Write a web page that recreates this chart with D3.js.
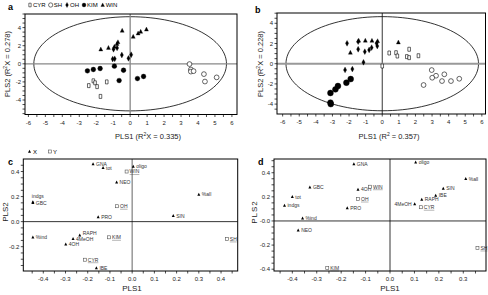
<!DOCTYPE html>
<html><head><meta charset="utf-8">
<script src="https://cdn.jsdelivr.net/npm/d3@7"></script>
<style>
html,body{margin:0;padding:0;background:#fff;}
svg{display:block;font-family:"Liberation Sans",Arial,sans-serif;}
</style></head>
<body><svg id="c" width="488" height="295"></svg>
<script>
// ---------- Panel a (scores) ----------
const aCYR = [[-2.44,-2.41],[-2.17,-1.88],[-2.07,-2.1],[-1.95,-2.52],[-1.38,-2.0],[-1.75,-3.6]];
const aSH  = [[3.5,-0.03],[3.58,-0.63],[3.58,-0.86],[3.74,-0.81],[4.35,-1.14],[4.41,-1.96],[5.1,-1.5]];
const aOH  = [[-0.98,1.6],[-0.77,1.75],[-0.49,0.97],[-1.03,0.52],[-0.91,0.55],[-0.1,0.6],[0.06,1.0]];
const aKIM = [[-2.52,-0.78],[-2.17,-0.63],[-1.77,-0.52],[-0.93,-0.26],[-0.39,-0.71],[-0.65,-1.85],[0.43,-1.63],[0.79,-1.4]];
const aWIN = [[-1.73,1.6],[-1.28,1.78],[-0.93,1.9],[-0.78,2.2],[-0.72,2.4],[-0.47,3.67],[0.18,3.0],[0.47,3.37],[0.62,3.55],[0.96,3.8]];
// ---------- Panel b (scores) ----------
const bCYR = [[0,-0.23],[0.42,1.06],[0.83,1.09],[0.91,0.76],[1.48,0.7],[1.62,0.6],[1.62,1.43],[2.18,0.79]];
const bSH  = [[2.98,-0.63],[3.24,-1.19],[3.01,-1.39],[3.74,-1.05],[3.6,-1.72],[4.14,-1.72],[4.64,-1.49],[2.49,-2.11]];
const bOH  = [[-2.12,2.02],[-1.45,2.18],[-1.45,1.43],[-1.05,1.19],[-0.79,1.36],[-0.64,1.59],[-0.34,2.02],[-0.3,1.75],[-1.13,0.14],[-2.24,-0.62],[-1.8,-0.53]];
const bKIM = [[-3.12,-2.9],[-3.12,-3.85],[-3.1,-4.0],[-2.82,-2.54],[-2.67,-2.21],[-2.16,-1.88],[-1.9,-1.52]];
const bWIN = [[-1.92,1.1],[-1.42,2.3],[-1.02,2.3],[-0.62,2.28],[-0.28,2.25],[0.97,2.12]];
const groupNames = ["CYR","SH","OH","KIM","WIN"];
// ellipse semi-axes (Hotelling T2)
const aEllipse = [5.68, 5.2];
const bEllipse = [5.8, 4.66];
// ---------- Panel c (loadings) ----------
const cNames = ["GNA","tot","oligo","WIN","NEO","indgs","GBC","%all","OH","PRO","SIN","%ind","RAPH","4MeOH","4OH","KIM","SH","CYR","IBE"];
const cKind  = ["X","X","X","Y","X","X","X","X","Y","X","X","X","X","X","X","Y","Y","Y","X"];
const cX     = [-0.176,-0.131,0.005,-0.025,-0.07,-0.447,-0.447,0.30,-0.068,-0.153,0.185,-0.447,-0.236,-0.266,-0.299,-0.104,0.426,-0.213,-0.161];
const cY     = [0.46,0.43,0.44,0.40,0.315,0.157,0.15,0.216,0.123,0.037,0.046,-0.125,-0.109,-0.136,-0.181,-0.125,-0.138,-0.304,-0.37];
// ---------- Panel d (loadings) ----------
const dNames = ["GNA","oligo","%all","GBC","tot","indgs","4OH","WIN","OH","PRO","%ind","NEO","SIN","IBE","RAPH","4MeOH","CYR","SH","KIM"];
const dKind  = ["X","X","X","X","X","X","X","Y","Y","X","X","X","X","X","X","X","Y","Y","Y"];
const dX     = [-0.148,0.105,0.31,-0.328,-0.40,-0.432,-0.131,-0.082,-0.131,-0.175,-0.358,-0.376,0.218,0.187,0.13,0.101,0.126,0.358,-0.257];
const dY     = [0.473,0.487,0.35,0.28,0.2,0.127,0.26,0.284,0.182,0.108,0.022,-0.077,0.268,0.21,0.177,0.141,0.114,-0.224,-0.39];
// tick label sets
const scoreXTicks = [-6,-5,-4,-3,-2,-1,0,1,2,3,4,5,6];
const scoreYTicks = [-4,-2,0,2,4];
const cXTicks = [-0.4,-0.3,-0.2,-0.1,0.0,0.1,0.2,0.3,0.4];
const cYTicks = [-0.2,0.0,0.2,0.4];
const dXTicks = [-0.4,-0.3,-0.2,-0.1,0.0,0.1,0.2,0.3];
const dYTicks = [-0.4,-0.2,0.0,0.2,0.4];

const svg = d3.select("#c");
const FS = 6;

function shapePath(kind){
  switch(kind){
    case "CYR": return "M-1.3,-2L1.3,-2L1.3,2L-1.3,2Z";
    case "SH": return d3.symbol(d3.symbolCircle, 18)();
    case "OH": return "M0,-2.9L1.6,0L0,2.9L-1.6,0Z";
    case "KIM": return d3.symbol(d3.symbolCircle, 15)();
    case "WIN": return "M0,-2.3L2,1.7L-2,1.7Z";
  }
}
function styleShape(sel, kind){
  const open = (kind==="CYR"||kind==="SH");
  sel.attr("fill", open ? "#fff" : "#000").attr("stroke", "#000").attr("stroke-width", open?0.6:0.3);
}

function frameAxes(g, x, y, opt){
  const [x0,x1] = x.range(), [y0,y1] = y.range();
  g.selectAll(null).data(opt.xMinor).join("line")
    .attr("x1", d=>x(d)).attr("x2", d=>x(d)).attr("y1", y0).attr("y2", y0+2.5)
    .attr("stroke","#000").attr("stroke-width",0.7);
  g.selectAll(null).data(opt.yMinor).join("line")
    .attr("y1", d=>y(d)).attr("y2", d=>y(d)).attr("x1", x0).attr("x2", x0-2.5)
    .attr("stroke","#000").attr("stroke-width",0.7);
  g.selectAll(null).data(opt.xLabels).join("text")
    .attr("x", d=>x(d)).attr("y", y0+10).attr("text-anchor","middle")
    .attr("font-size",FS).attr("fill","#222").text(opt.xFmt);
  g.selectAll(null).data(opt.yLabels).join("text")
    .attr("x", x0-4).attr("y", d=>y(d)+2).attr("text-anchor","end")
    .attr("font-size",FS).attr("fill","#222").text(opt.yFmt);
}
function frameBox(g, x, y){
  const [x0,x1] = x.range(), [y0,y1] = y.range();
  g.append("rect").attr("x",x0).attr("y",y1).attr("width",x1-x0).attr("height",y0-y1)
   .attr("fill","none").attr("stroke","#000").attr("stroke-width",1);
}
function range(a,b,s){ const r=[]; for(let v=a; v<=b+1e-9; v+=s) r.push(+v.toFixed(4)); return r; }

function scorePanel(x, y, groups, ell, opt){
  const g = svg.append("g");
  const pts = d3.range(0, 361, 3).map(t=>[x(ell[0]*Math.cos(t*Math.PI/180)), y(ell[1]*Math.sin(t*Math.PI/180))]);
  g.append("path").attr("d", d3.line()(pts)+"Z").attr("fill","none").attr("stroke","#000").attr("stroke-width",0.8);
  g.append("line").attr("x1",x(0)).attr("x2",x(0)).attr("y1",y.range()[0]).attr("y2",y.range()[1])
    .attr("stroke",opt.vCol).attr("stroke-width",opt.vW);
  g.append("line").attr("y1",y(0)).attr("y2",y(0)).attr("x1",x.range()[0]).attr("x2",x.range()[1])
    .attr("stroke",opt.hCol).attr("stroke-width",opt.hW);
  groups.forEach(([name, data])=>{
    g.selectAll(null).data(data).join("path")
      .attr("d", shapePath(name))
      .attr("transform", d=>`translate(${x(d[0])},${y(d[1])}) scale(${name==="KIM"?opt.kimScale:1})`)
      .call(styleShape, name);
  });
  frameBox(g,x,y);
  frameAxes(g,x,y,{xMinor:range(-6,6,0.5), yMinor:range(Math.ceil(y.domain()[0]*2)/2, Math.floor(y.domain()[1]*2)/2, 0.5),
    xLabels:scoreXTicks, yLabels:scoreYTicks, xFmt:d=>String(d), yFmt:d=>String(d)});
}

const xa = d3.scaleLinear().domain([-6.2,6.3]).range([25,237]);
const ya = d3.scaleLinear().domain([-5.6,5.5]).range([114.5,14]);
scorePanel(xa, ya, [["CYR",aCYR],["SH",aSH],["KIM",aKIM],["OH",aOH],["WIN",aWIN]], aEllipse,
  {vCol:"#888",vW:1.3,hCol:"#888",hW:1.3,kimScale:1.1});

const xb = d3.scaleLinear().domain([-6.34,6.22]).range([277,485.5]);
const yb = d3.scaleLinear().domain([-4.98,5.02]).range([114,13]);
scorePanel(xb, yb, [["CYR",bCYR],["SH",bSH],["KIM",bKIM],["OH",bOH],["WIN",bWIN]], bEllipse,
  {vCol:"#000",vW:0.8,hCol:"#999",hW:2,kimScale:1.35});

svg.append("text").attr("x",8).attr("y",10).attr("font-size",9).attr("font-weight","bold").text("a");
svg.append("text").attr("x",255).attr("y",13).attr("font-size",9).attr("font-weight","bold").text("b");
(function(){
  const lg = svg.append("g");
  let lx = 30;
  groupNames.forEach(n=>{
    lg.append("path").attr("d",shapePath(n)).attr("transform",`translate(${lx},5) scale(0.9)`).call(styleShape,n);
    const t = lg.append("text").attr("x",lx+3).attr("y",7.2).attr("font-size",FS).text(n);
    lx += 3 + t.node().getComputedTextLength() + 5;
  });
})();
// title with superscript 2: pre + sup + post
function supText(sel, pre, post){
  sel.append("tspan").text(pre);
  sel.append("tspan").attr("font-size",5).attr("dy",-3).text("2");
  sel.append("tspan").attr("dy",3).text(post);
}
function rotTitle(x, y, pre, post){
  const t = svg.append("text").attr("transform",`translate(${x},${y}) rotate(-90)`).attr("text-anchor","middle").attr("font-size",7.5).attr("fill","#222");
  supText(t, pre, post);
}
function title(x, y, pre, post){
  const t = svg.append("text").attr("x",x).attr("y",y).attr("text-anchor","middle").attr("font-size",7.5).attr("fill","#222");
  supText(t, pre, post);
}
rotTitle(10, 64, "PLS2 (R", "X = 0.278)");
title(148, 139, "PLS1 (R", "X = 0.335)");
rotTitle(263, 64, "PLS2 (R", "X = 0.228)");
title(389, 139, "PLS1 (R", " = 0.357)");

function loadPanel(x, y, names, kinds, xs, ys, opt){
  const g = svg.append("g");
  g.append("line").attr("x1",x(0)).attr("x2",x(0)).attr("y1",y.range()[0]).attr("y2",y.range()[1])
    .attr("stroke",opt.vCol).attr("stroke-width",opt.vW);
  g.append("line").attr("y1",y(0)).attr("y2",y(0)).attr("x1",x.range()[0]).attr("x2",x.range()[1])
    .attr("stroke",opt.hCol).attr("stroke-width",opt.hW);
  names.forEach((n,i)=>{
    const px = x(xs[i]), py = y(ys[i]);
    if(kinds[i]==="X"){
      g.append("path").attr("d","M0,-1.8L1.5,1.2L-1.5,1.2Z").attr("transform",`translate(${px},${py})`).attr("fill","#000");
    } else {
      g.append("rect").attr("x",px-1.5).attr("y",py-1.5).attr("width",3).attr("height",3)
        .attr("fill","#fff").attr("stroke","#555").attr("stroke-width",0.6);
    }
    const off = (opt.offsets && opt.offsets[n]) || [3,0,"start"];
    const t = g.append("text").attr("x",px+off[0]).attr("y",py+1.8+off[1]).attr("text-anchor",off[2])
      .attr("font-size",5).attr("fill","#333").text(n);
    if(kinds[i]==="Y"){
      const w = t.node().getComputedTextLength();
      g.append("line").attr("x1",px+off[0]).attr("x2",px+off[0]+w).attr("y1",py+3).attr("y2",py+3)
        .attr("stroke","#444").attr("stroke-width",0.4);
    }
  });
  frameBox(g,x,y);
  frameAxes(g,x,y,{xMinor:opt.xMinor, yMinor:opt.yMinor, xLabels:opt.xLabels, yLabels:opt.yLabels,
    xFmt:d=>d3.format(".1f")(d).replace("−","-"), yFmt:opt.yFmt});
}
const xc = d3.scaleLinear().domain([-0.49,0.475]).range([23.3,237.7]);
const yc = d3.scaleLinear().domain([-0.394,0.50]).range([271,159]);
loadPanel(xc, yc, cNames, cKind, cX, cY, {vCol:"#888",vW:1.3,hCol:"#000",hW:0.8,
  xMinor:range(-0.45,0.45,0.05), yMinor:range(-0.35,0.45,0.05), xLabels:cXTicks, yLabels:cYTicks,
  yFmt:d=>d3.format(".1f")(d).replace("−","-"),
  offsets:{"indgs":[-1,-6,"start"], "RAPH":[3,-2.2,"start"], "4MeOH":[3,0.8,"start"]}});

const xd = d3.scaleLinear().domain([-0.475,0.393]).range([274,486]);
const yd = d3.scaleLinear().domain([-0.415,0.514]).range([271,159]);
loadPanel(xd, yd, dNames, dKind, dX, dY, {vCol:"#000",vW:0.8,hCol:"#000",hW:0.8,
  xMinor:range(-0.45,0.35,0.05), yMinor:range(-0.4,0.5,0.05), xLabels:dXTicks, yLabels:dYTicks,
  yFmt:d=> d===0 ? "-0.0" : d3.format(".1f")(d).replace("−","-"),
  offsets:{"4MeOH":[-3,0,"end"]}});

svg.append("text").attr("x",8).attr("y",165).attr("font-size",9).attr("font-weight","bold").text("c");
svg.append("text").attr("x",258).attr("y",165).attr("font-size",9).attr("font-weight","bold").text("d");
svg.append("path").attr("d","M0,-1.8L1.5,1.2L-1.5,1.2Z").attr("transform","translate(29.5,151.5)").attr("fill","#000");
svg.append("text").attr("x",33).attr("y",153.5).attr("font-size",FS).text("X");
svg.append("rect").attr("x",48.5).attr("y",150).attr("width",3).attr("height",3).attr("fill","#fff").attr("stroke","#555").attr("stroke-width",0.6);
svg.append("text").attr("x",53).attr("y",153.5).attr("font-size",FS).text("Y");

svg.append("text").attr("transform","translate(8,212) rotate(-90)").attr("text-anchor","middle").attr("font-size",8).attr("fill","#222").text("PLS2");
svg.append("text").attr("x",132).attr("y",291).attr("text-anchor","middle").attr("font-size",8).attr("fill","#222").text("PLS1");
svg.append("text").attr("transform","translate(257,212) rotate(-90)").attr("text-anchor","middle").attr("font-size",8).attr("fill","#222").attr("letter-spacing",1).text("PLS2");
svg.append("text").attr("x",390).attr("y",291).attr("text-anchor","middle").attr("font-size",8).attr("fill","#222").text("PLS1");
</script></body></html>
